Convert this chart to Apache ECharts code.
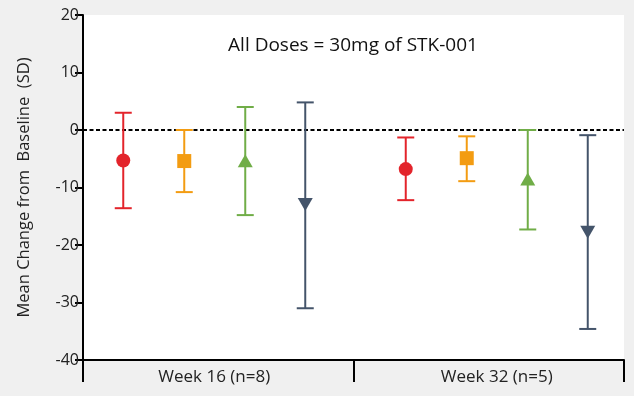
<!DOCTYPE html>
<html>
<head>
<meta charset="utf-8">
<script src="https://cdn.jsdelivr.net/npm/echarts@6/dist/echarts.min.js"></script>
<style>
html,body{margin:0;padding:0;background:#f0f0f0;}
#chart{width:634px;height:396px;}
</style>
</head>
<body>
<div id="chart"></div>
<script>
var categories = ['Week 16 (n=8)', 'Week 32 (n=5)'];
var yTicks = [-40, -30, -20, -10, 0, 10, 20];
var titleText = 'All Doses = 30mg of STK-001';
var yName = 'Mean Change from  Baseline  (SD)';

var redMean = [-5.3, -6.8];
var redLow = [-13.6, -12.2];
var redHigh = [3.0, -1.3];

var orangeMean = [-5.4, -4.9];
var orangeLow = [-10.8, -8.9];
var orangeHigh = [0.0, -1.1];

var greenMean = [-5.6, -8.8];
var greenLow = [-14.8, -17.3];
var greenHigh = [4.0, 0.0];

var blueMean = [-12.7, -17.5];
var blueLow = [-31.0, -34.6];
var blueHigh = [4.8, -0.9];

var FONT = 'Open Sans';
var GROUP_SHIFT = [-4, 8];

var seriesDefs = [
  {mean: redMean, low: redLow, high: redHigh, color: '#e3242b', shape: 'circle', offset: -91},
  {mean: orangeMean, low: orangeLow, high: orangeHigh, color: '#f39c12', shape: 'square', offset: -30},
  {mean: greenMean, low: greenLow, high: greenHigh, color: '#70ad47', shape: 'up', offset: 31},
  {mean: blueMean, low: blueLow, high: blueHigh, color: '#44546a', shape: 'down', offset: 91}
];

function makeSeries(def, idx) {
  var data = categories.map(function (c, i) { return [i, def.mean[i], def.low[i], def.high[i]]; });
  var s = {
    type: 'custom',
    name: 'S' + idx,
    data: data,
    z: 5,
    renderItem: function (params, api) {
      var i = api.value(0);
      var pm = api.coord([i, api.value(1)]);
      var pl = api.coord([i, api.value(2)]);
      var ph = api.coord([i, api.value(3)]);
      var x = pm[0] + def.offset + GROUP_SHIFT[i];
      var cw = 8.5;
      var st = {stroke: def.color, lineWidth: 2, fill: null};
      var children = [
        {type: 'line', shape: {x1: x, y1: pl[1], x2: x, y2: ph[1]}, style: st},
        {type: 'line', shape: {x1: x - cw, y1: pl[1], x2: x + cw, y2: pl[1]}, style: st},
        {type: 'line', shape: {x1: x - cw, y1: ph[1], x2: x + cw, y2: ph[1]}, style: st}
      ];
      var y = pm[1];
      var ms = {fill: def.color, stroke: null};
      if (def.shape === 'circle') {
        children.push({type: 'circle', shape: {cx: x, cy: y, r: 7}, style: ms});
      } else if (def.shape === 'square') {
        children.push({type: 'rect', shape: {x: x - 7, y: y - 7, width: 14, height: 14}, style: ms});
      } else if (def.shape === 'up') {
        children.push({type: 'polygon', shape: {points: [[x, y - 8], [x + 7.5, y + 5], [x - 7.5, y + 5]]}, style: ms});
      } else {
        children.push({type: 'polygon', shape: {points: [[x, y + 8], [x + 7.5, y - 5], [x - 7.5, y - 5]]}, style: ms});
      }
      return {type: 'group', children: children};
    }
  };
  if (idx === 0) {
    s.markLine = {
      silent: true,
      symbol: ['none', 'none'],
      label: {show: false},
      z: 3,
      lineStyle: {color: '#000', type: [4, 2.5], width: 2},
      data: [{yAxis: 0}]
    };
  }
  return s;
}

var series = seriesDefs.map(makeSeries);

var chart = echarts.init(document.getElementById('chart'));
chart.setOption({
  backgroundColor: '#f0f0f0',
  animation: false,
  graphic: [{
    type: 'text',
    x: 353,
    y: 46,
    style: {text: titleText, font: '19px "' + FONT + '"', fill: '#111', textAlign: 'center', textVerticalAlign: 'middle'}
  }],
  grid: {left: 83, right: 10, top: 15, bottom: 36, show: true, backgroundColor: '#ffffff', borderWidth: 0},
  xAxis: {
    type: 'category',
    data: categories,
    boundaryGap: true,
    axisLine: {onZero: false, lineStyle: {color: '#000', width: 2}},
    axisTick: {show: true, length: 22, interval: 0, lineStyle: {color: '#000', width: 2}},
    axisLabel: {
      margin: 9, color: '#222', fontSize: 17, fontFamily: FONT,
      formatter: function (v, i) { return '{g' + i + '|' + v + '}'; },
      rich: {
        g0: {fontSize: 17, fontFamily: FONT, color: '#222', padding: [0, 8, 0, 0]},
        g1: {fontSize: 17, fontFamily: FONT, color: '#222', padding: [0, 0, 0, 16]}
      }
    },
    splitLine: {show: false}
  },
  yAxis: {
    type: 'value',
    min: yTicks[0],
    max: yTicks[yTicks.length - 1],
    interval: 10,
    name: yName,
    nameLocation: 'middle',
    nameGap: 50,
    nameTextStyle: {color: '#222', fontSize: 16.5, fontFamily: FONT},
    axisLine: {show: true, lineStyle: {color: '#000', width: 2}},
    axisTick: {show: true, length: 8, lineStyle: {color: '#000', width: 2}},
    axisLabel: {margin: 4, color: '#222', fontSize: 16, fontFamily: FONT},
    splitLine: {show: false}
  },
  series: series
});
</script>
</body>
</html>
